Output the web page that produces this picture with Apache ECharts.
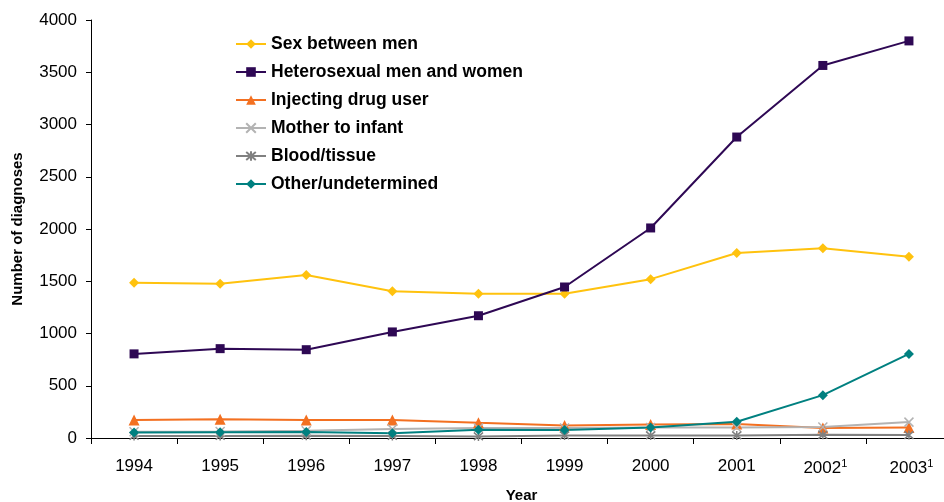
<!DOCTYPE html>
<html>
<head>
<meta charset="utf-8">
<script src="https://cdn.jsdelivr.net/npm/echarts@6/dist/echarts.min.js"></script>
<style>
html,body{margin:0;padding:0;background:#fff;}
#chart{width:944px;height:502px;}
</style>
</head>
<body>
<div id="chart"></div>
<script>
var years = ['1994','1995','1996','1997','1998','1999','2000','2001','2002','2003'];
var yearNotes = ['','','','','','','','','1','1'];
var yTicks = [0, 500, 1000, 1500, 2000, 2500, 3000, 3500, 4000];
var sexBetweenMen = [1485, 1475, 1560, 1405, 1380, 1380, 1520, 1770, 1815, 1735];
var heterosexual = [805, 855, 845, 1015, 1170, 1445, 2010, 2880, 3565, 3800];
var injectingDrugUser = [172, 180, 172, 172, 145, 120, 130, 135, 95, 100];
var motherToInfant = [60, 62, 70, 85, 95, 95, 100, 100, 105, 152];
var bloodTissue = [20, 20, 22, 20, 15, 25, 25, 25, 30, 28];
var otherUndetermined = [52, 55, 58, 45, 78, 77, 100, 155, 410, 805];

var font = '"Liberation Sans", Arial, sans-serif';
var xMark = 'path://M0,0L10,10M10,0L0,10';
var starMark = 'path://M0,0L10,10M10,0L0,10M5,-1L5,11';

function mk(name, data, color, symbol, size, extra) {
  var s = {
    name: name, type: 'line', data: data, symbol: symbol, symbolSize: size,
    lineStyle: { color: color, width: 2 },
    itemStyle: { color: color },
    emphasis: { disabled: true }
  };
  if (extra) s.itemStyle = { color: color, borderColor: color, borderWidth: 1.5 };
  return s;
}

var chart = echarts.init(document.getElementById('chart'));
chart.setOption({
  animation: false,
  backgroundColor: '#ffffff',
  grid: { left: 91, right: -8, top: 20, bottom: 64, containLabel: false, outerBoundsMode: 'none' },
  legend: {
    orient: 'vertical', left: 230, top: 30,
    itemWidth: 30, itemHeight: 12, itemGap: 10,
    textStyle: { fontFamily: font, fontWeight: 'bold', fontSize: 17.5, color: '#000' },
    data: ['Sex between men','Heterosexual men and women','Injecting drug user','Mother to infant','Blood/tissue','Other/undetermined']
  },
  xAxis: {
    type: 'category', data: years, boundaryGap: true,
    name: 'Year', nameLocation: 'middle', nameGap: 50,
    nameTextStyle: { fontFamily: font, fontWeight: 'bold', fontSize: 15, color: '#000' },
    axisLine: { lineStyle: { color: '#000', width: 1 } },
    axisTick: { show: true, length: 6, interval: 0, lineStyle: { color: '#000' } },
    axisLabel: {
      interval: 0, margin: 20, fontFamily: font, fontSize: 17, color: '#000',
      formatter: function (v, i) {
        var n = yearNotes[i];
        return n ? '{p|}{a|' + v + '}{s|' + n + '}' : v;
      },
      rich: {
        a: { fontFamily: font, fontSize: 17, color: '#000' },
        p: { width: 5 },
        s: { fontFamily: font, fontSize: 11, color: '#000', padding: [0, 0, 9, 0] }
      }
    },
    splitLine: { show: false }
  },
  yAxis: {
    type: 'value', min: 0, max: 4000, interval: 500,
    name: 'Number of diagnoses', nameLocation: 'middle', nameGap: 66, nameRotate: 90,
    nameTextStyle: { fontFamily: font, fontWeight: 'bold', fontSize: 15, color: '#000' },
    axisLine: { show: true, lineStyle: { color: '#000', width: 1 } },
    axisTick: { show: true, length: 5, lineStyle: { color: '#000' } },
    axisLabel: { margin: 14, fontFamily: font, fontSize: 17, color: '#000',
      formatter: function (v) { return String(v); } },
    splitLine: { show: false }
  },
  series: [
    mk('Sex between men', sexBetweenMen, '#FFC20E', 'diamond', 10),
    mk('Heterosexual men and women', heterosexual, '#2E0854', 'rect', 9),
    mk('Injecting drug user', injectingDrugUser, '#F37021', 'triangle', 11),
    mk('Mother to infant', motherToInfant, '#B3B3B3', xMark, 9, true),
    mk('Blood/tissue', bloodTissue, '#808080', starMark, 9, true),
    mk('Other/undetermined', otherUndetermined, '#008080', 'diamond', 10)
  ]
});
</script>
</body>
</html>
